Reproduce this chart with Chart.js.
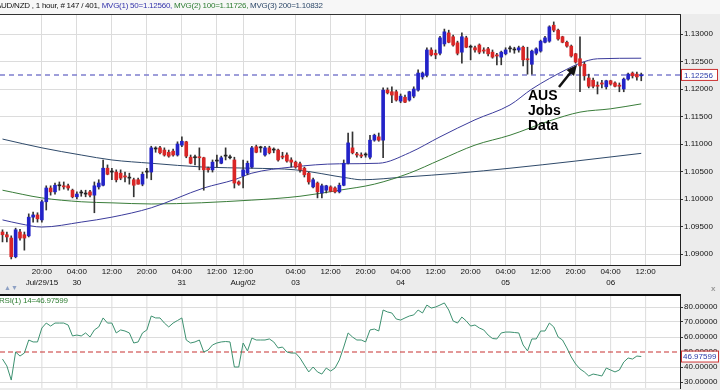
<!DOCTYPE html>
<html>
<head>
<meta charset="utf-8">
<script src="https://cdn.jsdelivr.net/npm/chart.js@4.4.1/dist/chart.umd.min.js"></script>
<style>
  body { margin: 0; background: #ececec; width: 720px; height: 390px; overflow: hidden; position: relative; font-family: "Liberation Sans", Arial, sans-serif; }
  canvas { position: absolute; left: 0; }
  #main { top: 0; }
  #rsi { top: 291px; }
  .txt { position: absolute; white-space: nowrap; }
  #title { left: -4px; top: 1px; font-size: 8px; letter-spacing: -0.25px; color: #111; }
  #rsiLabel { left: -1px; top: 296px; font-size: 8px; letter-spacing: -0.2px; color: #2e7d32; }
  #note { left: 528px; top: 88px; font-size: 14px; font-weight: bold; line-height: 15px; color: #000; }
  #arrows { left: 4px; top: 284px; font-size: 7px; color: #8da0c4; }
  #closeX { left: 711px; top: 284px; font-size: 8px; color: #999; font-weight: bold; }
</style>
</head>
<body>
<canvas id="main" width="720" height="292"></canvas>
<canvas id="rsi" width="720" height="99"></canvas>
<div id="title" class="txt">AUD/NZD , 1 hour, # 147 / 401, <span style="color:#3333aa">MVG(1) 50=1.12560,</span> <span style="color:#2e7d32">MVG(2) 100=1.11726,</span> <span style="color:#2f4a6a">MVG(3) 200=1.10832</span></div>
<div id="rsiLabel" class="txt">RSI(1) 14=46.97599</div>
<div id="note" class="txt">AUS<br>Jobs<br>Data</div>
<div id="arrows" class="txt">▲▼</div>
<div id="closeX" class="txt">x</div>
<script>
// AUD/NZD hourly candles, bar 0 = Jul 29 11:00
const open = [
  1.0940,1.0935,1.0929,1.0895,1.0940,1.0935,1.0933,1.0967,1.0971,1.0962,
  1.0995,1.1020,1.1013,1.1024,1.1024,1.1024,1.1016,1.1004,1.1011,1.1009,
  1.1013,1.1007,1.1022,1.1025,1.1056,1.1049,1.1049,1.1047,1.1042,1.1038,
  1.1035,1.1035,1.1027,1.1049,1.1049,1.1091,1.1093,1.1089,1.1085,1.1087,
  1.1080,1.1098,1.1104,1.1076,1.1075,1.1076,1.1075,1.1056,1.1053,1.1069,
  1.1065,1.1078,1.1075,1.1071,1.1031,1.1042,1.1047,1.1058,1.1095,1.1093,
  1.1080,1.1093,1.1089,1.1089,1.1078,1.1080,1.1071,1.1067,1.1064,1.1056,
  1.1047,1.1022,1.1029,1.1011,1.1016,1.1022,1.1020,1.1013,1.1025,1.1065,
  1.1093,1.1082,1.1080,1.1080,1.1076,1.1107,1.1113,1.1107,1.1198,1.1195,
  1.1195,1.1178,1.1185,1.1180,1.1187,1.1198,1.1222,1.1225,1.1271,1.1265,
  1.1265,1.1282,1.1302,1.1295,1.1284,1.1267,1.1293,1.1276,1.1275,1.1280,
  1.1271,1.1273,1.1267,1.1262,1.1258,1.1264,1.1273,1.1271,1.1271,1.1276,
  1.1255,1.1245,1.1265,1.1269,1.1285,1.1287,1.1316,1.1307,1.1295,1.1285,
  1.1278,1.1264,1.1255,1.1245,1.1220,1.1216,1.1207,1.1211,1.1204,1.1215,
  1.1211,1.1207,1.1200,1.1218,1.1229,1.1227,1.1224
];
const high = [
  1.0944,1.0940,1.0933,1.0947,1.0945,1.0940,1.0973,1.0976,1.0975,1.0998,
  1.1024,1.1024,1.1029,1.1031,1.1031,1.1027,1.1018,1.1013,1.1016,1.1016,
  1.1016,1.1031,1.1035,1.1071,1.1062,1.1056,1.1053,1.1053,1.1049,1.1047,
  1.1038,1.1038,1.1049,1.1056,1.1096,1.1095,1.1096,1.1093,1.1089,1.1091,
  1.1104,1.1113,1.1105,1.1080,1.1080,1.1093,1.1076,1.1058,1.1071,1.1080,
  1.1078,1.1093,1.1080,1.1076,1.1033,1.1071,1.1069,1.1096,1.1098,1.1096,
  1.1096,1.1096,1.1093,1.1091,1.1085,1.1084,1.1075,1.1069,1.1067,1.1058,
  1.1049,1.1038,1.1031,1.1027,1.1025,1.1024,1.1022,1.1029,1.1071,1.1120,
  1.1122,1.1085,1.1084,1.1084,1.1116,1.1118,1.1120,1.1202,1.1202,1.1204,
  1.1198,1.1191,1.1189,1.1196,1.1204,1.1235,1.1231,1.1275,1.1275,1.1271,
  1.1296,1.1309,1.1307,1.1298,1.1287,1.1302,1.1296,1.1280,1.1278,1.1282,
  1.1275,1.1276,1.1271,1.1265,1.1269,1.1275,1.1278,1.1276,1.1278,1.1278,
  1.1276,1.1271,1.1275,1.1289,1.1296,1.1315,1.1322,1.1309,1.1296,1.1287,
  1.1280,1.1265,1.1295,1.1249,1.1227,1.1220,1.1213,1.1216,1.1216,1.1216,
  1.1213,1.1211,1.1220,1.1229,1.1231,1.1231,1.1229
];
const low = [
  1.0922,1.0922,1.0891,1.0893,1.0925,1.0907,1.0931,1.0958,1.0958,1.0958,
  1.0980,1.1007,1.1009,1.1016,1.1018,1.1016,1.1002,1.1000,1.1005,1.1004,
  1.1004,1.0975,1.1018,1.1024,1.1044,1.1035,1.1031,1.1035,1.1031,1.1027,
  1.1004,1.1027,1.1024,1.1038,1.1035,1.1085,1.1082,1.1078,1.1076,1.1078,
  1.1078,1.1095,1.1075,1.1064,1.1062,1.1053,1.1016,1.1049,1.1049,1.1058,
  1.1064,1.1071,1.1073,1.1020,1.1025,1.1020,1.1044,1.1056,1.1084,1.1085,
  1.1078,1.1082,1.1084,1.1069,1.1073,1.1067,1.1058,1.1056,1.1049,1.1040,
  1.1027,1.1020,1.1002,1.1002,1.1011,1.1013,1.1011,1.1011,1.1024,1.1064,
  1.1082,1.1076,1.1075,1.1076,1.1073,1.1105,1.1105,1.1075,1.1191,1.1175,
  1.1178,1.1175,1.1175,1.1178,1.1184,1.1196,1.1218,1.1222,1.1260,1.1255,
  1.1262,1.1278,1.1284,1.1278,1.1262,1.1247,1.1275,1.1253,1.1267,1.1264,
  1.1265,1.1260,1.1256,1.1244,1.1244,1.1262,1.1267,1.1265,1.1267,1.1242,
  1.1227,1.1227,1.1262,1.1267,1.1284,1.1285,1.1304,1.1289,1.1284,1.1276,
  1.1258,1.1247,1.1195,1.1216,1.1202,1.1202,1.1191,1.1202,1.1200,1.1207,
  1.1204,1.1195,1.1195,1.1216,1.1220,1.1216,1.1215
];
const close = [
  1.0935,1.0931,1.0895,1.0944,1.0929,1.0929,1.0967,1.0971,1.0964,1.0995,
  1.1020,1.1013,1.1025,1.1024,1.1022,1.1020,1.1004,1.1009,1.1011,1.1009,
  1.1007,1.1024,1.1029,1.1056,1.1045,1.1049,1.1035,1.1038,1.1040,1.1038,
  1.1025,1.1027,1.1045,1.1049,1.1093,1.1091,1.1084,1.1080,1.1078,1.1080,
  1.1100,1.1105,1.1078,1.1065,1.1075,1.1075,1.1053,1.1053,1.1067,1.1069,
  1.1075,1.1078,1.1075,1.1029,1.1027,1.1053,1.1065,1.1093,1.1085,1.1093,
  1.1093,1.1084,1.1089,1.1071,1.1076,1.1069,1.1067,1.1058,1.1053,1.1044,
  1.1031,1.1035,1.1013,1.1024,1.1024,1.1014,1.1013,1.1025,1.1065,1.1102,
  1.1084,1.1080,1.1078,1.1080,1.1107,1.1116,1.1107,1.1198,1.1193,1.1189,
  1.1180,1.1187,1.1176,1.1195,1.1200,1.1229,1.1229,1.1271,1.1262,1.1262,
  1.1293,1.1304,1.1285,1.1280,1.1265,1.1295,1.1276,1.1276,1.1271,1.1267,
  1.1269,1.1264,1.1258,1.1260,1.1267,1.1271,1.1273,1.1271,1.1275,1.1253,
  1.1253,1.1269,1.1273,1.1287,1.1293,1.1313,1.1307,1.1291,1.1285,1.1278,
  1.1260,1.1249,1.1242,1.1224,1.1205,1.1205,1.1205,1.1209,1.1215,1.1209,
  1.1205,1.1205,1.1218,1.1227,1.1224,1.1222,1.12256
];

const ma50Idx = [0, 4, 9, 18, 25, 34, 46, 53, 57, 66, 77, 86, 93, 100, 108, 116, 121, 129, 132, 136, 146];
const ma50Val = [1.0962, 1.0955, 1.0949, 1.0958, 1.0967, 1.0984, 1.1020, 1.1035, 1.1047, 1.1058, 1.1064, 1.1065, 1.1084, 1.1113, 1.1144, 1.1171, 1.1200, 1.1236, 1.1247, 1.1255, 1.1256];
const ma100Idx = [0, 9, 18, 25, 34, 57, 68, 77, 85, 93, 100, 108, 116, 125, 132, 139, 146];
const ma100Val = [1.1016, 1.1002, 1.0995, 1.0993, 1.0991, 1.0998, 1.1005, 1.1016, 1.1027, 1.1047, 1.1071, 1.1098, 1.1116, 1.1142, 1.1158, 1.1164, 1.1173];
const ma200Idx = [0, 9, 18, 25, 34, 46, 57, 67, 79, 82, 92, 104, 116, 131, 146];
const ma200Val = [1.1109, 1.1093, 1.1080, 1.1071, 1.1065, 1.1058, 1.1056, 1.1053, 1.1038, 1.1035, 1.1040, 1.1047, 1.1056, 1.1069, 1.1083];

// RSI(14), one value per bar
const rsi = [
  45.3,40.7,31.3,50.0,47.3,49.3,58.0,56.7,56.7,66.0,
  69.3,67.3,69.3,69.3,69.3,68.0,60.7,61.3,60.7,62.7,
  60.0,64.7,66.7,72.7,69.3,69.3,62.7,64.7,64.0,62.7,
  56.0,56.7,62.7,64.7,74.0,72.7,72.7,69.3,66.7,69.3,
  71.0,72.7,58.0,56.0,56.7,58.0,50.0,51.3,54.7,56.0,
  56.7,57.0,56.7,40.0,40.0,56.0,50.7,59.3,58.0,58.0,
  58.0,58.7,56.7,52.7,53.3,50.0,49.3,49.3,46.0,41.3,
  36.7,40.0,36.7,35.3,39.3,37.3,39.3,44.7,53.3,62.7,
  60.0,58.0,58.0,56.7,64.7,65.3,64.0,78.0,76.7,76.0,
  72.0,71.3,72.7,74.0,74.7,78.0,76.0,81.3,79.3,80.0,
  81.3,82.7,78.0,70.7,69.3,73.3,70.7,67.3,68.0,66.0,
  64.7,61.3,59.0,58.7,62.7,63.3,63.3,63.0,62.7,54.7,
  50.7,58.7,58.7,64.0,64.0,69.3,66.7,60.0,58.0,52.7,
  46.7,42.0,38.7,36.7,34.0,35.3,34.7,34.0,39.3,38.0,
  36.7,38.0,43.3,46.0,45.3,47.3,46.98
];

const tickIdx  = [9, 17, 25, 33, 41, 49, 55, 67, 75, 83, 91, 99, 107, 115, 123, 131, 139, 147];
const tickTime = ["20:00","04:00","12:00","20:00","04:00","12:00","12:00","04:00","12:00","20:00","04:00","12:00","20:00","04:00","12:00","20:00","04:00","12:00"];
const tickDay  = ["Jul/29/15","30","","","31","","Aug/02","03","","","04","","","05","","","06",""];
const priceTicks = [1.090, 1.095, 1.100, 1.105, 1.110, 1.115, 1.120, 1.125, 1.130];
const rsiTicks = [30, 40, 50, 60, 70, 80];
const lastPrice = 1.12256;
const lastRsi = 46.97599;

const FONT = "'Liberation Sans', Arial, sans-serif";
const X_MIN = -0.571, X_MAX = 154.857;
const GRID = '#dcdcdc';

const idx = close.map((c, i) => i);
const bodies = idx.map(i => ({ x: i, y: [open[i], close[i]] }));
const wicks = idx.map(i => ({ x: i, y: [low[i], high[i]] }));
const bodyCol = idx.map(i => close[i] > open[i] ? '#2323c8' : (close[i] < open[i] ? '#d92626' : '#222'));
const pts = (xs, ys) => xs.map((x, k) => ({ x: x, y: ys[k] }));

// right axis, 40px wide, no extra room reserved for half labels
const fitRight = s => { s.width = 40; s.paddingTop = 0; s.paddingBottom = 0; };

const mainDeco = {
  id: 'mainDeco',
  beforeDraw(c) {
    const a = c.chartArea, ctx = c.ctx;
    ctx.save();
    ctx.fillStyle = '#f7f7f7';
    ctx.fillRect(0, 0, 720, a.top);
    ctx.fillStyle = '#fff';
    ctx.fillRect(a.left, a.top, a.right - a.left, a.bottom - a.top);
    ctx.restore();
  },
  beforeDatasetsDraw(c) {
    const a = c.chartArea, ctx = c.ctx;
    const y = c.scales.y.getPixelForValue(lastPrice);
    ctx.save();
    ctx.strokeStyle = '#7f7fce';
    ctx.lineWidth = 1.6;
    ctx.setLineDash([5, 4]);
    ctx.beginPath(); ctx.moveTo(a.left, y); ctx.lineTo(a.right, y); ctx.stroke();
    ctx.restore();
  },
  afterDatasetsDraw(c) {
    const ctx = c.ctx;
    // arrow pointing at the jobs data spike
    ctx.save();
    ctx.strokeStyle = '#111'; ctx.fillStyle = '#111'; ctx.lineWidth = 2.5;
    ctx.beginPath(); ctx.moveTo(559, 87); ctx.lineTo(571, 72); ctx.stroke();
    ctx.beginPath(); ctx.moveTo(577, 65); ctx.lineTo(574, 76); ctx.lineTo(566.5, 70); ctx.closePath(); ctx.fill();
    ctx.restore();
  },
  afterDraw(c) {
    const a = c.chartArea, ctx = c.ctx;
    const y = c.scales.y.getPixelForValue(lastPrice);
    ctx.save();
    ctx.fillStyle = '#333';
    ctx.fillRect(0, a.top, a.right + 1, 1);
    ctx.fillStyle = '#fff';
    ctx.fillRect(681, y - 5, 36, 11);
    ctx.strokeStyle = '#cc3333'; ctx.lineWidth = 1;
    ctx.strokeRect(681.5, y - 5.5, 36, 11);
    ctx.fillStyle = '#2a3aa8';
    ctx.font = '8px ' + FONT;
    ctx.textBaseline = 'middle';
    ctx.fillText(lastPrice.toFixed(5), 684, y + 0.5);
    ctx.restore();
  }
};

new Chart(document.getElementById('main'), {
  type: 'bar',
  data: {
    datasets: [
      { type: 'line', data: pts(ma200Idx, ma200Val), borderColor: '#2f4a6a', borderWidth: 1, pointRadius: 0, cubicInterpolationMode: 'monotone', order: 5 },
      { type: 'line', data: pts(ma100Idx, ma100Val), borderColor: '#3a7d3a', borderWidth: 1, pointRadius: 0, cubicInterpolationMode: 'monotone', order: 4 },
      { type: 'line', data: pts(ma50Idx, ma50Val), borderColor: '#3c3c9c', borderWidth: 1, pointRadius: 0, cubicInterpolationMode: 'monotone', order: 3 },
      { data: wicks, backgroundColor: '#333', barThickness: 1, grouped: false, order: 2 },
      { data: bodies, backgroundColor: bodyCol, barThickness: 3, minBarLength: 1, grouped: false, order: 1 }
    ]
  },
  options: {
    responsive: false,
    animation: false,
    layout: { padding: { top: 14, left: 0, right: 0, bottom: 0 } },
    plugins: { legend: { display: false }, tooltip: { enabled: false } },
    scales: {
      x: {
        type: 'linear', min: X_MIN, max: X_MAX, offset: false,
        afterBuildTicks: s => { s.ticks = tickIdx.map(v => ({ value: v })); },
        afterFit: s => { s.height = 27; },
        grid: { color: GRID, drawTicks: false, offset: false },
        border: { color: '#222' },
        ticks: {
          autoSkip: false, maxRotation: 0, minRotation: 0, padding: 1, color: '#111',
          font: { family: FONT, size: 8, lineHeight: 1.375 },
          callback: (v, i) => [tickTime[i], tickDay[i]]
        }
      },
      y: {
        position: 'right', min: 1.0880, max: 1.13364,
        afterBuildTicks: s => { s.ticks = priceTicks.map(v => ({ value: v })); },
        afterFit: fitRight,
        grid: { color: GRID, tickColor: '#333', tickLength: 3 },
        border: { color: '#222' },
        ticks: { padding: 1, color: '#111', font: { family: FONT, size: 8 }, callback: v => v.toFixed(5) }
      }
    }
  },
  plugins: [mainDeco]
});

const rsiDeco = {
  id: 'rsiDeco',
  beforeDraw(c) {
    const a = c.chartArea, ctx = c.ctx;
    ctx.save();
    ctx.fillStyle = '#fff';
    ctx.fillRect(a.left, a.top, a.right - a.left, a.bottom - a.top);
    ctx.restore();
  },
  beforeDatasetsDraw(c) {
    const a = c.chartArea, ctx = c.ctx;
    const xs = c.scales.x;
    ctx.save();
    // time grid, same positions as the price panel
    ctx.strokeStyle = GRID; ctx.lineWidth = 1;
    tickIdx.forEach(v => {
      const x = xs.getPixelForValue(v);
      ctx.beginPath(); ctx.moveTo(x, a.top); ctx.lineTo(x, a.bottom); ctx.stroke();
    });
    const y = c.scales.y.getPixelForValue(50);
    ctx.strokeStyle = '#c83232';
    ctx.lineWidth = 1.2;
    ctx.setLineDash([5, 3]);
    ctx.beginPath(); ctx.moveTo(a.left, y); ctx.lineTo(a.right, y); ctx.stroke();
    ctx.restore();
  },
  afterDraw(c) {
    const a = c.chartArea, ctx = c.ctx;
    const y = c.scales.y.getPixelForValue(lastRsi);
    ctx.save();
    ctx.fillStyle = '#111';
    ctx.fillRect(0, a.top - 1, a.right + 1, 2);
    ctx.fillStyle = '#fff';
    ctx.fillRect(681, y - 5, 38, 11);
    ctx.strokeStyle = '#cc3333'; ctx.lineWidth = 1;
    ctx.strokeRect(681.5, y - 5.5, 37, 11);
    ctx.fillStyle = '#2a3aa8';
    ctx.font = '8px ' + FONT;
    ctx.textBaseline = 'middle';
    ctx.fillText(lastRsi.toFixed(5), 683, y + 0.5);
    ctx.restore();
  }
};

new Chart(document.getElementById('rsi'), {
  type: 'line',
  data: {
    datasets: [
      { data: pts(idx, rsi), borderColor: '#3d9170', borderWidth: 1, pointRadius: 0, tension: 0 }
    ]
  },
  options: {
    responsive: false,
    animation: false,
    layout: { padding: { top: 4, left: 0, right: 0, bottom: 2 } },
    plugins: { legend: { display: false }, tooltip: { enabled: false } },
    scales: {
      x: { type: 'linear', display: false, min: X_MIN, max: X_MAX, offset: false },
      y: {
        position: 'right', min: 26, max: 88,
        afterBuildTicks: s => { s.ticks = rsiTicks.map(v => ({ value: v })); },
        afterFit: fitRight,
        grid: { color: ctx => ctx.tick && ctx.tick.value === 50 ? 'rgba(0,0,0,0)' : GRID, tickColor: '#333', tickLength: 3 },
        border: { color: '#222' },
        ticks: { padding: 1, color: '#111', font: { family: FONT, size: 8 }, callback: v => v.toFixed(5) }
      }
    }
  },
  plugins: [rsiDeco]
});
</script>
</body>
</html>
